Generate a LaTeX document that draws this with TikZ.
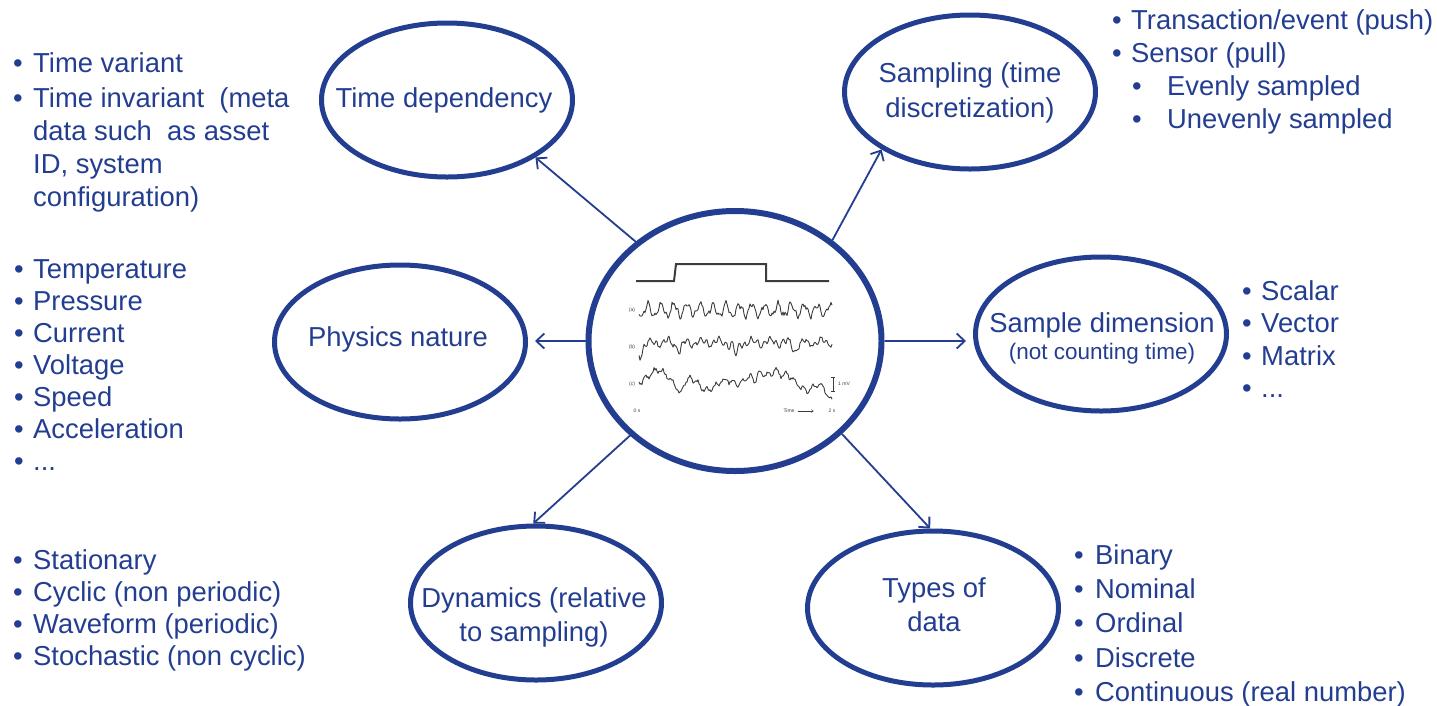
\documentclass[tikz,border=0pt]{standalone}
\usepackage{fontspec}
\setmainfont{Liberation Sans}
\usetikzlibrary{shapes.geometric,arrows.meta}
\definecolor{navy}{RGB}{35,62,145}
\definecolor{trace}{RGB}{60,60,60}
\newcommand\bul[1]{\makebox[#1][l]{•}}

\begin{document}
\begin{tikzpicture}[x=1pt,y=-1pt,
  topic/.style={ellipse, draw=navy, line width=5pt, minimum width=251pt, minimum height=154pt, inner sep=0pt},
  hub/.style={ellipse, draw=navy, line width=6pt, minimum width=293pt, minimum height=260pt, inner sep=0pt},
  lbl/.style={text=navy, font=\fontsize{27.4}{33}\selectfont, inner sep=0pt, anchor=base},
  sublbl/.style={lbl, font=\fontsize{22.5}{27}\selectfont},
  list/.style={text=navy, inner sep=0pt, anchor=north west},
  link/.style={draw=navy, line width=1.8pt, -{Straight Barb[length=8pt,width=15pt]}},
  wave/.style={draw=trace, line width=0.9pt, line join=round, domain=639:832, samples=194},
  tiny/.style={text=trace, font=\fontsize{5}{6}\selectfont, inner sep=0pt},
]
\useasboundingbox (0,0) rectangle (1437,705);

% central signal ellipse and the six topics
\node[hub] (c) at (735,341) {};
\node[topic] (td) at (447,100) {};
\node[topic] (sm) at (970,92) {};
\node[topic] (pn) at (400,342) {};
\node[topic] (sd) at (1101,334) {};
\node[topic] (dy) at (536,603) {};
\node[topic] (ty) at (933,608) {};

% topic labels
\node[lbl] (tdText) at (444,107) {Time dependency};
\node[lbl] (smText1) at (970,82) {Sampling (time};
\node[lbl] (smText2) at (970,117) {discretization)};
\node[lbl] (pnText) at (398,346) {Physics nature};
\node[lbl] (sdText1) at (1102,332) {Sample dimension};
\node[sublbl] (sdText2) at (1102,359) {(not counting time)};
\node[lbl] (dyText1) at (534,607) {Dynamics (relative};
\node[lbl] (dyText2) at (534,641) {to sampling)};
\node[lbl] (tyText1) at (934,597) {Types of};
\node[lbl] (tyText2) at (934,631) {data};

% bullet lists
\node[list, font=\fontsize{27.4}{33}\selectfont] (tdList) at (13,48.9) {\begin{tabular}{@{}l@{}}
\bul{20pt}Time variant\\[2pt]
\bul{20pt}Time invariant\ \ (meta\\
\hspace{20pt}data such\ \ as asset\\
\hspace{20pt}ID, system\\
\hspace{20pt}configuration)
\end{tabular}};

\node[list, font=\fontsize{27.4}{32}\selectfont] (pnList) at (14,255.6) {\begin{tabular}{@{}l@{}}
\bul{19pt}Temperature\\
\bul{19pt}Pressure\\
\bul{19pt}Current\\
\bul{19pt}Voltage\\
\bul{19pt}Speed\\
\bul{19pt}Acceleration\\
\bul{19pt}...
\end{tabular}};

\node[list, font=\fontsize{27.4}{32}\selectfont] (dyList) at (13,547) {\begin{tabular}{@{}l@{}}
\bul{20pt}Stationary\\
\bul{20pt}Cyclic (non periodic)\\
\bul{20pt}Waveform (periodic)\\
\bul{20pt}Stochastic (non cyclic)
\end{tabular}};

\node[list, font=\fontsize{27.4}{33}\selectfont] (smList) at (1112,5.9) {\begin{tabular}{@{}l@{}}
\bul{19pt}Transaction/event (push)\\
\bul{19pt}Sensor (pull)\\
\hspace{20pt}\bul{35pt}Evenly sampled\\
\hspace{20pt}\bul{35pt}Unevenly sampled
\end{tabular}};

\node[list, font=\fontsize{27.4}{32.5}\selectfont] (sdList) at (1242,277.3) {\begin{tabular}{@{}l@{}}
\bul{19pt}Scalar\\
\bul{19pt}Vector\\
\bul{19pt}Matrix\\
\bul{19pt}...
\end{tabular}};

\node[list, font=\fontsize{27.4}{34.3}\selectfont] (tyList) at (1074,540) {\begin{tabular}{@{}l@{}}
\bul{21pt}Binary\\
\bul{21pt}Nominal\\
\bul{21pt}Ordinal\\
\bul{21pt}Discrete\\
\bul{21pt}Continuous (real number)
\end{tabular}};

% connectors from the centre to every topic
\draw[link] (c.135) -- (td.-33);
\draw[link] (c.46) -- (sm.-147);
\draw[link, shorten >=7pt] (c.west) -- (c.west -| pn.east);
\draw[link, shorten >=7pt] (c.east) -- (c.east -| sd.west);
\draw[link] (c.-138) -- (dy.92);
\draw[link] (c.-41) -- (ty.92);

% signal sketch inside the centre: gating pulse and three recorded traces
\pgfmathsetseed{7}
\draw[trace, line width=2pt] (636,281) -- (674,281) -- (676,264) -- (766,264) -- (766,281) -- (829,281);
\draw[wave] plot (\x, {310 + 6*sin(27.7*(\x-639)+20) + 2.5*sin(61*(\x-639)+50) + 2*rand});
\draw[wave] plot (\x, {342 + 3*sin(21*(\x-639)+40) + 2.5*sin(57*(\x-639)) + 1.6*rand + 12/(1+((\x-640)/3)^2) + 10/(1+((\x-680)/2)^2) + 15/(1+((\x-736)/2)^2) + 9/(1+((\x-795)/2.5)^2)});
\draw[wave] plot (\x, {380 + 6*sin(3.5*(\x-639)+200) + 4*sin(11*(\x-639)+60) + 2.5*sin(41*(\x-639)) + 1.8*rand + 14/(1+((\x-680)/3)^2) + 10/(1+((\x-755)/3)^2) - 10/(1+((\x-775)/4)^2) + 16/(1+((\x-830)/5)^2)});

\node[tiny] (la) at (632,310) {(a)};
\node[tiny] (lb) at (632,347) {(b)};
\node[tiny] (lc) at (632,384) {(c)};
\draw[trace, line width=0.5pt] (831,377) -- (835,377) (833,377) -- (833,391) (831,391) -- (835,391);
\node[tiny, anchor=west] (mv) at (838,384) {1 mV};
\node[tiny] (t0) at (637,411) {0 s};
\node[tiny] (tl) at (789,411) {Time};
\node[tiny] (t2) at (832,411) {2 s};
\draw[trace, line width=0.4pt, -{Straight Barb[length=2pt,width=3pt]}] (tl.east) ++(3,0) -- ++(16,0);
\end{tikzpicture}
\end{document}
